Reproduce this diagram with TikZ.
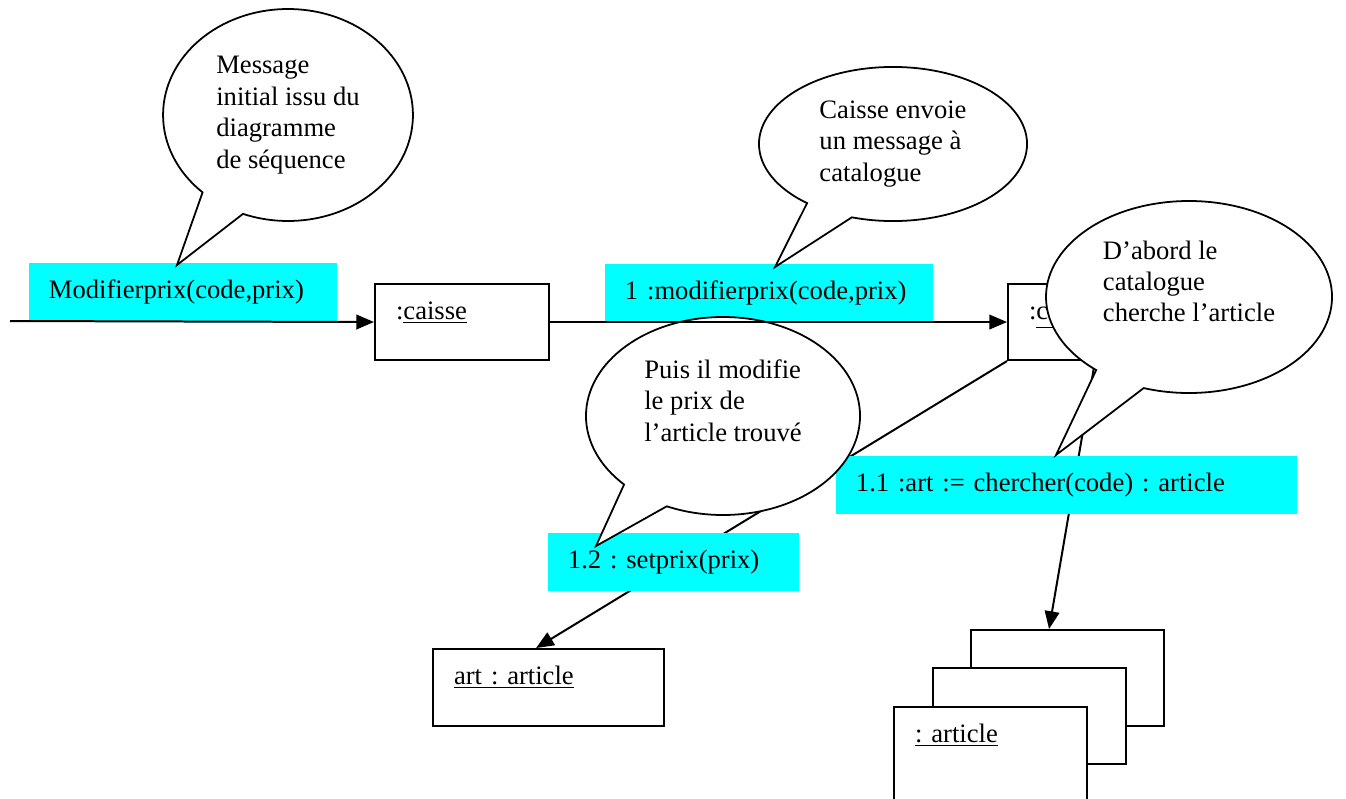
\documentclass[tikz,border=0pt]{standalone}
\usepackage{fontspec}
\setmainfont{Liberation Serif}
\usepackage{tikz}
\usetikzlibrary{arrows.meta}
\usetikzlibrary{shapes.callouts}
\usepackage{xcolor}
\definecolor{MsgCyan}{RGB}{0,255,255}
\frenchspacing
\tikzstyle{ObjBox}=[draw,fill=white,line width=.9pt,anchor=north west,align=left,
inner xsep=9.5pt,inner ysep=0pt,text height=15.8pt]
\tikzstyle{MsgBox}=[fill=MsgCyan,anchor=north west,align=left,inner xsep=8.8pt,
inner ysep=0pt,minimum height=26pt,text height=8.4pt,text depth=2.6pt]
\tikzstyle{Bubble}=[ellipse callout,draw,fill=white,line width=.8pt,align=left,
inner sep=0pt,callout pointer arc=22]
\tikzstyle{MsgArrow}=[line width=.9pt,-{Triangle[length=8pt,width=6.6pt]}]
\begin{document}
\begin{tikzpicture}[x=.451pt,y=-.451pt,font=\fontsize{12}{14.2}\selectfont]
        \useasboundingbox(0,0)rectangle(1346,798);
        \node[ObjBox,text width=59.5pt,text depth=18.5pt](caisse)at(374,283){:\underline{caisse}};
        \node[ObjBox,text width=59.5pt,text depth=18.5pt](cat)at(1007,283){:\underline{catalogue}};
        \node[ObjBox,text width=85.2pt,text depth=18.9pt](art)at(432,648){\underline{art : article}};
        \node[ObjBox,text width=68pt,text depth=27.5pt](artC)at(970,629){};
        \node[ObjBox,text width=68pt,text depth=27.5pt](artB)at(932,667){};
        \node[ObjBox,text width=68pt,text depth=27.5pt](artA)at(893,706){\underline{: article}};
        \coordinate(entry)at(10,321);
        \draw[MsgArrow](cat.south west)--([xshift=-5.6pt]art.north);
        \draw[MsgArrow](cat.south)--([xshift=-8.3pt]artC.north);
        \node[MsgBox,text width=120.9pt](msgA)at(29,263){Modifierprix(code,prix)};
        \node[MsgBox,text width=129.9pt](msgB)at(605,264){1 :modifierprix(code,prix)};
        \node[MsgBox,text width=189.9pt](msgC)at(836,456){1.1 :art := chercher(code) : article};
        \node[MsgBox,text width=95.2pt](msgD)at(548,533){1.2 : setprix(prix)};
        \node[Bubble,minimum width=112.7pt,minimum height=95.6pt,
            callout absolute pointer={(177,265)}](bubInit)at(288,115)
            {Message\\initial issu du\\diagramme\\de séquence};
        \node[Bubble,minimum width=120.9pt,minimum height=69.5pt,
            callout absolute pointer={(775,267)}](bubCaisse)at(893,144)
            {Caisse envoie\\un message à\\catalogue};
        \node[Bubble,minimum width=123.6pt,minimum height=89.3pt,
            callout absolute pointer={(596,546)}](bubPrix)at(723,416)
            {Puis il modifie\\le prix de\\l'article trouvé\\\mbox{}};
        \node[Bubble,minimum width=129pt,minimum height=86.6pt,
            callout absolute pointer={(1056,455)}](bubCherche)at(1189,297)
            {D'abord le\\catalogue\\cherche l'article\\\mbox{}};
        \draw[MsgArrow](entry)--(caisse.west);
        \draw[MsgArrow](caisse.east)--(cat.west);
    \end{tikzpicture}
\end{document}
